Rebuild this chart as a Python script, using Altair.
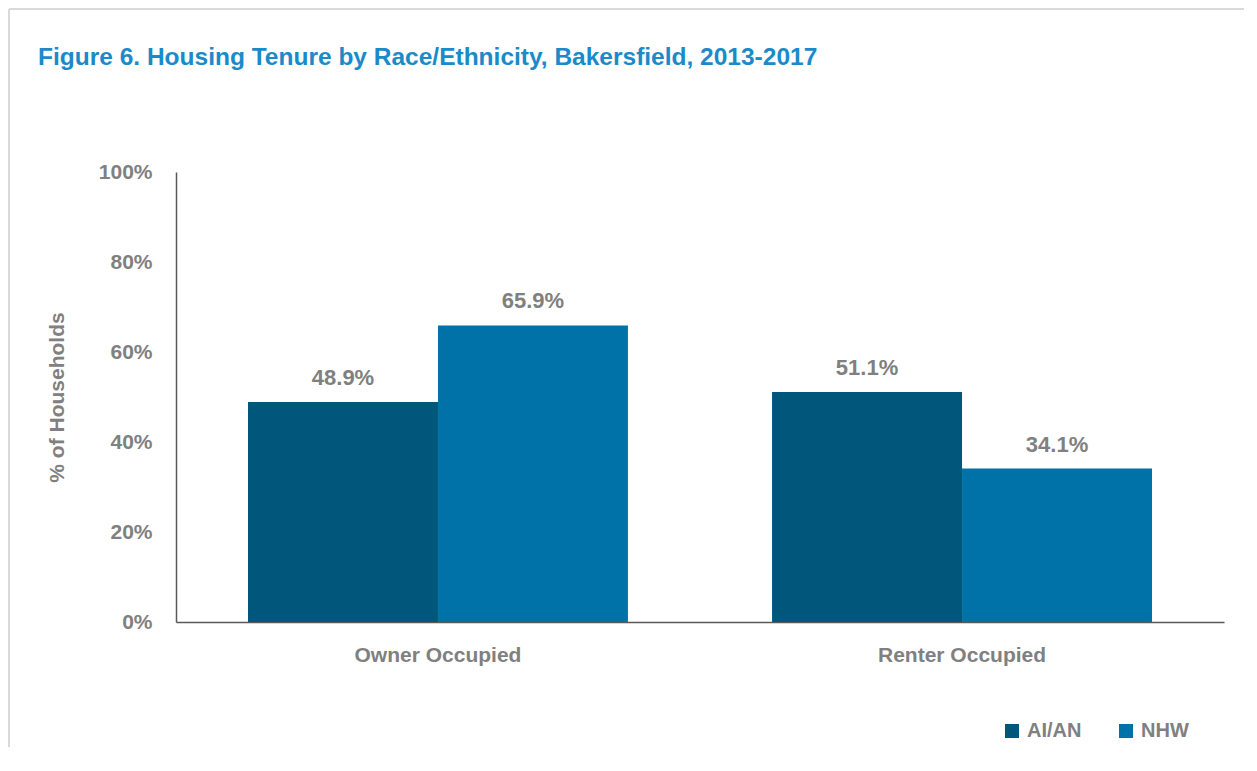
import altair as alt
import pandas as pd

categories = ["Owner Occupied", "Owner Occupied", "Renter Occupied", "Renter Occupied"]
groups = ["AI/AN", "NHW", "AI/AN", "NHW"]
values = [48.9, 65.9, 51.1, 34.1]
title_text = ["Figure 6. Housing Tenure by Race/Ethnicity, Bakersfield, 2013-2017"]

df = pd.DataFrame({"Tenure": categories, "Group": groups, "Value": values})
df["Label"] = [f"{v:.1f}%" for v in values]
tdf = pd.DataFrame({"t": title_text})

FONT = "Liberation Sans Narrow, Liberation Sans, Arial Narrow, sans-serif"
GRAY = "#808080"
W, H = 1048, 450

color = alt.Color("Group:N", scale=alt.Scale(domain=["AI/AN", "NHW"], range=["#00577C", "#0072A8"]),
                  legend=alt.Legend(title=None, orient="none", direction="horizontal",
                                    legendX=826, legendY=549, symbolType="square", symbolSize=196,
                                    symbolStrokeWidth=0, labelFont=FONT, labelFontSize=20,
                                    labelFontWeight="bold", labelColor=GRAY, columnPadding=34,
                                    labelOffset=5))

x = alt.X("Tenure:N", title=None,
          scale=alt.Scale(paddingInner=0.275, paddingOuter=0.1374),
          axis=alt.Axis(labelAngle=0, labelFont=FONT, labelFontSize=21, labelFontWeight="bold",
                        labelColor=GRAY, ticks=False, labelPadding=22, domainColor="#595959",
                        domainWidth=1.5))
y = alt.Y("Value:Q", title="% of Households",
          scale=alt.Scale(domain=[0, 100]),
          axis=alt.Axis(values=[0, 20, 40, 60, 80, 100], labelExpr="datum.value + '%'",
                        grid=False, ticks=False, labelFont=FONT, labelFontSize=21,
                        labelFontWeight="bold", labelColor=GRAY, labelPadding=24,
                        titleFont=FONT, titleFontSize=21, titleFontWeight="bold",
                        titleColor=GRAY, titlePadding=31, domainColor="#595959", domainWidth=1.5))

bars = alt.Chart(df).mark_bar().encode(
    x=x, y=y, xOffset=alt.XOffset("Group:N", scale=alt.Scale(paddingInner=0, paddingOuter=0)),
    color=color)

labels = alt.Chart(df).mark_text(font=FONT, fontSize=22, fontWeight="bold", color=GRAY,
                                 baseline="alphabetic", dy=-17).encode(
    x=x, y=y, xOffset=alt.XOffset("Group:N"), text="Label:N")

title = alt.Chart(tdf).mark_text(font=FONT, fontSize=24.5, fontWeight="bold", color="#1A8AC9",
                                 align="left", baseline="alphabetic", clip=False).encode(
    x=alt.value(-138), y=alt.value(-107), text="t:N")

top_line = alt.Chart(df).mark_rule(color="#D9D9D9", strokeWidth=2, clip=False).encode(
    x=alt.value(-167), x2=alt.value(W + 20), y=alt.value(-163))
left_line = alt.Chart(df).mark_rule(color="#D9D9D9", strokeWidth=2, clip=False).encode(
    x=alt.value(-167), y=alt.value(-163), y2=alt.value(H + 125))

chart = alt.layer(top_line, left_line, title, bars, labels).properties(
    width=W, height=H,
    autosize=alt.AutoSizeParams(type="none"),
    padding={"left": 168, "top": 164, "right": 20, "bottom": 125},
).configure(background="white").configure_view(strokeWidth=0)

chart.save("out.html", embed_options={"renderer": "svg", "actions": False})
